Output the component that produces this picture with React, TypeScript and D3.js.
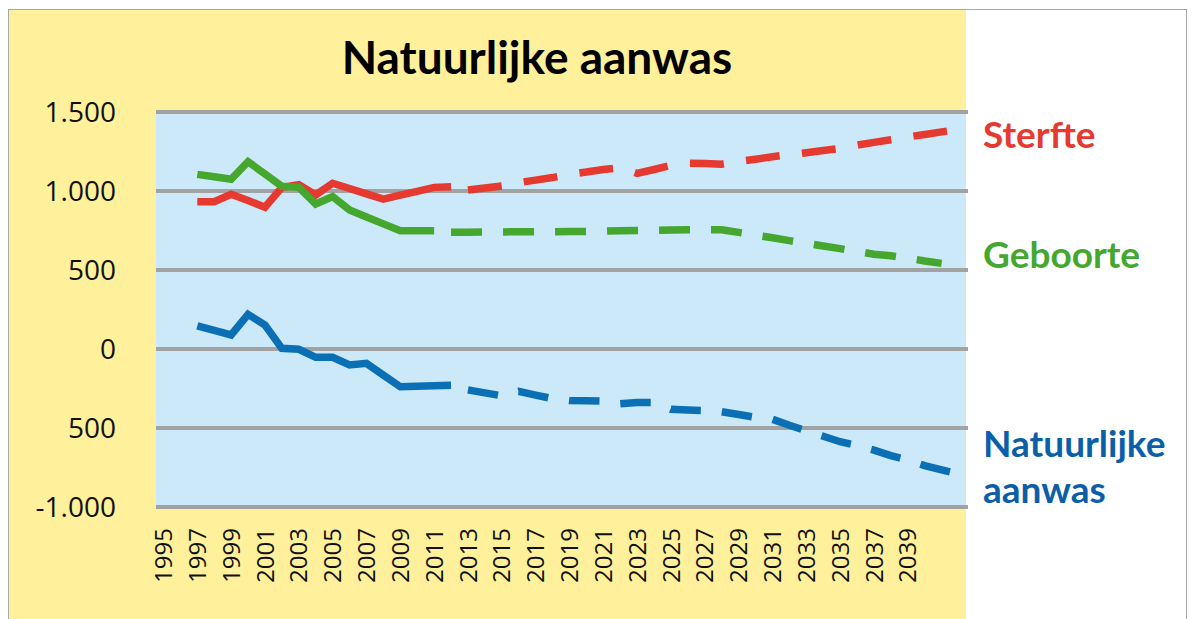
import * as d3 from "d3";

// gemeten jaren (doorgetrokken lijnen)
const jaren = [1997, 1998, 1999, 2000, 2001, 2002, 2003, 2004, 2005, 2006, 2007, 2008, 2009, 2010, 2011, 2012];
const sterfte = [932, 932, 979, 940, 897, 1023, 1040, 975, 1049, 1016, 982, 949, 974, 998, 1023, 1027];
const geboorte = [1105, 1090, 1074, 1185, 1108, 1030, 1023, 918, 965, 880, 836, 792, 749, 749, 749, null];
const aanwas = [146, 118, 89, 219, 152, 4, -2, -53, -53, -101, -91, -165, -239, -236, -233, -230];

// prognose (gestippelde lijnen)
const prognoseJaren = [
  2012, 2013, 2014, 2015, 2016, 2017, 2018, 2019, 2020, 2021, 2022, 2023, 2024, 2025, 2026, 2027,
  2028, 2029, 2030, 2031, 2032, 2033, 2034, 2035, 2036, 2037, 2038, 2039, 2040, 2041, 2042,
];
const sterfteProg = [
  null, 1006, 1019, 1032, 1053, 1069, 1085, 1105, 1120, 1136, 1148, 1112, 1136, 1162, 1175, 1174,
  1170, 1186, 1201, 1217, 1230, 1242, 1256, 1270, 1290, 1308, 1324, 1342, 1358, 1374, 1390,
];
const geboorteProg = [
  739, 739, 740, 741, 742, 742, 742, 743, 744, 746, 749, 750, 752, 753, 754, 755,
  755, 738, 721, 704, 686, 669, 652, 635, 618, 600, 590, 575, 557, 542, null,
];
const aanwasProg = [
  null, -259, -278, -296, -268, -292, -314, -326, -327, -330, -347, -338, -338, -382, -386, -390,
  -397, -415, -432, -445, -483, -518, -552, -587, -610, -640, -675, -703, -738, -765, -790,
];

const xLabels = [
  "1995", "1997", "1999", "2001", "2003", "2005", "2007", "2009", "2011", "2013", "2015", "2017",
  "2019", "2021", "2023", "2025", "2027", "2029", "2031", "2033", "2035", "2037", "2039",
];
const yTicks = [1500, 1000, 500, 0, -500, -1000];
const yLabels = ["1.500", "1.000", "500", "0", "500", "-1.000"];

const RED = "#e6392f";
const GREEN = "#45a72e";
const BLUE = "#0b6fb5";

type Pt = [number, number | null];

export default function App() {
  const x = d3.scaleLinear().domain([1994.5, 2042.5]).range([155, 967]);
  const y = d3.scaleLinear().domain([-1000, 1500]).range([507, 112]);

  const line = d3
    .line<Pt>()
    .defined((d) => d[1] != null)
    .x((d) => x(d[0]))
    .y((d) => y(d[1] as number));

  const series = [
    { col: RED, w: 7.5, dash: "34 22.4", real: sterfte, prog: sterfteProg },
    { col: GREEN, w: 7.5, dash: "31 21", real: geboorte, prog: geboorteProg },
    { col: BLUE, w: 7.5, dash: "30.5 21", real: aanwas, prog: aanwasProg },
  ];

  const legendFont = "Lato, 'Open Sans', sans-serif";
  const axisFont = "'Open Sans', 'Noto Sans', sans-serif";

  return (
    <svg
      width={1192}
      height={619}
      style={{ position: "absolute", left: 0, top: 0, background: "#fff" }}
    >
      <rect x={8.5} y={9.5} width={1178} height={620} fill="#fff" stroke="#a8a8a8" strokeWidth={1} />
      <rect x={9} y={10} width={957} height={610} fill="#fff09b" />
      <rect x={156} y={y(1500)} width={810} height={y(-1000) - y(1500)} fill="#cbe9f8" />

      {yTicks.map((t) => (
        <line key={t} x1={156} x2={968} y1={y(t)} y2={y(t)} stroke="#a2a2a2" strokeWidth={4} />
      ))}

      {yTicks.map((t, i) => (
        <text
          key={"yl" + t}
          x={116}
          y={y(t)}
          dy="0.36em"
          textAnchor="end"
          fontFamily={axisFont}
          fontSize={28}
          fill="#111"
        >
          {yLabels[i]}
        </text>
      ))}

      {xLabels.map((l) => (
        <text
          key={l}
          transform={`translate(${x(+l)},528) rotate(-90)`}
          dy="0.36em"
          textAnchor="end"
          fontFamily={axisFont}
          fontSize={24}
          fill="#111"
        >
          {l}
        </text>
      ))}

      {series.map((s, i) => (
        <g key={i} fill="none" stroke={s.col} strokeWidth={s.w} strokeLinejoin="miter">
          <path d={line(jaren.map((j, k) => [j, s.real[k]] as Pt)) || ""} />
          <path
            d={line(prognoseJaren.map((j, k) => [j, s.prog[k]] as Pt)) || ""}
            strokeDasharray={s.dash}
          />
        </g>
      ))}

      <text x={537} y={74} textAnchor="middle" fontFamily={legendFont} fontWeight="bold" fontSize={46} fill="#000">
        Natuurlijke aanwas
      </text>

      <g fontFamily={legendFont} fontWeight="bold" fontSize={37}>
        <text x={983} y={148} fill={RED}>Sterfte</text>
        <text x={983} y={268} fill={GREEN}>Geboorte</text>
        <text x={983} y={457} fill="#0b5fa8">Natuurlijke</text>
        <text x={983} y={503} fill="#0b5fa8">aanwas</text>
      </g>
    </svg>
  );
}
